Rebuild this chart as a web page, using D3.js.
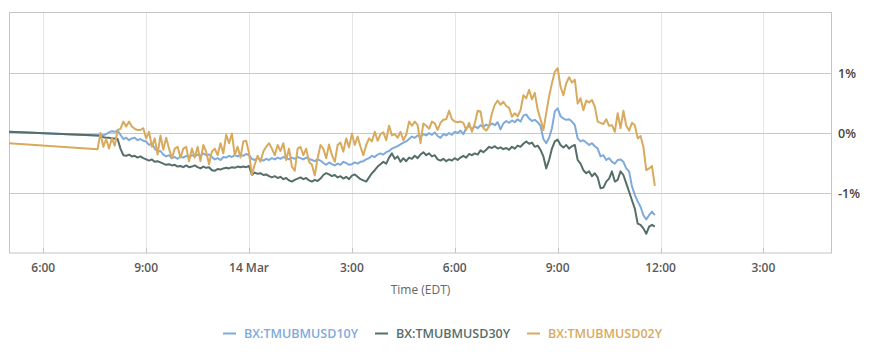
<!DOCTYPE html>
<html><head><meta charset="utf-8">
<script src="https://cdn.jsdelivr.net/npm/d3@7"></script>
<style>
html,body{margin:0;padding:0;background:#fff;}
svg{display:block;font-family:"Open Sans",sans-serif;}
</style></head>
<body><svg id="c" width="869" height="357"></svg>
<script>
// ---- data ----
const seriesNames = ["BX:TMUBMUSD10Y", "BX:TMUBMUSD30Y", "BX:TMUBMUSD02Y"];
const seriesColors = ["#7eaadc", "#566e6a", "#d8aa5e"];
// two early points, then 5-minute samples from 19:40 (13 Mar) to 11:50 (14 Mar), EDT
const leadTimes = ["2023-03-13T17:00", "2023-03-13T19:35"];
const gridStart = "2023-03-13T19:40";
const gridEnd = "2023-03-14T11:50";
const stepMinutes = 5;

const lead10Y = [0.02, -0.04];
const lead30Y = [0.02, -0.04];
const lead02Y = [-0.17, -0.27];

const values10Y = [
-0.03,-0.04,-0.02,0.01,0.03,0.02,0.04,-0.03,-0.10,-0.08,
-0.12,-0.09,-0.08,-0.12,-0.10,-0.13,-0.14,-0.20,-0.17,-0.26,
-0.31,-0.30,-0.36,-0.39,-0.37,-0.42,-0.40,-0.43,-0.39,-0.41,
-0.38,-0.40,-0.37,-0.39,-0.36,-0.38,-0.34,-0.37,-0.36,
-0.40,-0.44,-0.42,-0.45,-0.40,-0.41,-0.38,-0.40,-0.37,-0.39,
-0.36,-0.38,-0.35,-0.37,-0.43,-0.45,-0.42,-0.44,-0.46,-0.43,
-0.45,-0.42,-0.44,-0.41,-0.43,-0.40,-0.42,-0.44,-0.41,-0.43,
-0.40,-0.42,-0.44,-0.41,-0.43,-0.45,-0.47,-0.44,-0.46,
-0.50,-0.53,-0.49,-0.52,-0.54,-0.51,-0.53,-0.48,-0.50,-0.53,
-0.52,-0.49,-0.51,-0.48,-0.47,-0.44,-0.42,-0.38,-0.40,-0.36,
-0.34,-0.36,-0.32,-0.30,-0.26,-0.24,-0.22,-0.19,-0.16,-0.14,
-0.10,-0.06,-0.08,-0.04,-0.06,-0.02,-0.04,0.00,-0.03,0.01,
-0.05,-0.08,-0.02,-0.04,0.00,-0.03,0.02,0.00,0.04,-0.02,
0.08,0.12,0.06,0.11,0.08,0.13,0.10,0.14,0.12,0.16,
0.13,0.18,0.06,0.16,0.20,0.17,0.21,0.18,0.23,0.19,
0.29,0.31,0.24,0.20,0.22,0.18,0.12,-0.10,-0.17,-0.08,
0.08,0.36,0.41,0.28,0.24,0.22,0.23,0.19,0.13,-0.09,
-0.14,-0.12,-0.16,-0.20,-0.17,-0.22,-0.26,-0.39,-0.37,-0.45,
-0.42,-0.48,-0.51,-0.45,-0.44,-0.48,-0.59,-0.64,-0.89,-1.03,
-1.14,-1.23,-1.37,-1.44,-1.37,-1.31,-1.37
];
const values30Y = [
-0.05,-0.07,-0.08,-0.08,-0.09,-0.09,-0.10,-0.26,-0.37,-0.38,
-0.36,-0.39,-0.38,-0.41,-0.39,-0.42,-0.44,-0.46,-0.44,-0.48,
-0.47,-0.49,-0.51,-0.53,-0.52,-0.54,-0.53,-0.56,-0.55,-0.57,
-0.54,-0.57,-0.56,-0.54,-0.57,-0.59,-0.56,-0.58,-0.57,
-0.62,-0.63,-0.60,-0.61,-0.59,-0.58,-0.59,-0.57,-0.58,-0.56,
-0.57,-0.56,-0.57,-0.55,-0.70,-0.66,-0.68,-0.67,-0.70,-0.69,
-0.72,-0.74,-0.72,-0.75,-0.73,-0.77,-0.75,-0.79,-0.81,-0.78,
-0.76,-0.74,-0.77,-0.75,-0.79,-0.81,-0.78,-0.80,-0.76,
-0.70,-0.67,-0.69,-0.72,-0.70,-0.74,-0.72,-0.76,-0.73,-0.77,
-0.71,-0.69,-0.73,-0.77,-0.79,-0.81,-0.74,-0.67,-0.62,-0.56,
-0.52,-0.48,-0.51,-0.41,-0.34,-0.43,-0.39,-0.48,-0.42,-0.47,
-0.41,-0.43,-0.38,-0.42,-0.36,-0.32,-0.37,-0.34,-0.39,-0.37,
-0.44,-0.46,-0.43,-0.47,-0.44,-0.46,-0.42,-0.45,-0.41,-0.38,
-0.41,-0.35,-0.37,-0.34,-0.36,-0.29,-0.32,-0.28,-0.23,-0.25,
-0.22,-0.26,-0.24,-0.27,-0.25,-0.28,-0.23,-0.26,-0.21,-0.23,
-0.18,-0.14,-0.18,-0.16,-0.23,-0.21,-0.28,-0.39,-0.59,-0.45,
-0.26,-0.14,-0.11,-0.20,-0.24,-0.20,-0.26,-0.22,-0.20,-0.45,
-0.51,-0.62,-0.67,-0.64,-0.72,-0.67,-0.74,-0.92,-0.91,-0.81,
-0.76,-0.64,-0.81,-0.78,-0.64,-0.70,-0.84,-0.98,-1.12,-1.26,
-1.51,-1.53,-1.59,-1.68,-1.56,-1.53,-1.56
];
const values02Y = [
0.00,-0.23,-0.10,-0.26,-0.09,-0.21,0.05,0.07,0.19,0.11,
0.19,0.11,0.07,0.05,0.05,0.08,-0.09,0.02,-0.23,-0.09,
-0.36,-0.04,-0.28,-0.08,-0.26,-0.42,-0.26,-0.23,-0.41,-0.26,
-0.23,-0.47,-0.26,-0.41,-0.23,-0.47,-0.20,-0.31,-0.52,
-0.31,-0.26,-0.37,-0.17,-0.34,-0.03,-0.17,-0.01,-0.37,-0.23,
-0.41,-0.14,-0.13,-0.34,-0.70,-0.52,-0.38,-0.48,-0.31,-0.23,
-0.17,-0.26,-0.37,-0.20,-0.30,-0.17,-0.45,-0.26,-0.56,-0.63,
-0.26,-0.23,-0.37,-0.26,-0.48,-0.53,-0.71,-0.42,-0.20,
-0.26,-0.42,-0.19,-0.37,-0.48,-0.20,-0.16,-0.31,-0.09,-0.24,
-0.01,-0.20,-0.06,-0.23,-0.37,-0.20,-0.09,-0.14,0.02,-0.13,
-0.02,0.01,-0.12,0.12,-0.04,-0.02,-0.08,0.02,-0.12,-0.03,
0.19,0.12,0.19,0.13,-0.17,0.16,0.12,0.07,0.19,0.16,
0.05,0.17,0.22,0.23,0.37,0.23,0.19,0.18,0.19,0.17,
0.05,0.17,0.02,0.16,0.37,0.36,0.08,0.04,0.11,0.33,
0.47,0.54,0.47,0.52,0.45,0.42,0.27,0.33,0.28,0.38,
0.63,0.58,0.72,0.56,0.67,0.39,0.23,0.05,0.33,0.61,
0.83,1.02,1.08,0.77,0.63,0.83,0.93,0.84,0.89,0.49,
0.58,0.38,0.54,0.51,0.55,0.44,0.19,0.17,0.15,0.23,
0.12,0.13,0.02,0.33,0.08,0.37,0.12,0.04,0.17,0.13,
-0.09,-0.05,-0.23,-0.62,-0.59,-0.55,-0.88
];
const xDomain = ["2023-03-13T17:00", "2023-03-14T17:00"];
const yDomain = [-2, 2];
const yTicks = [-1, 0, 1];

// ---- build ----
const parse = s => new Date(s + ":00Z");
const gridTimes = d3.utcMinute.every(stepMinutes).range(parse(gridStart), new Date(+parse(gridEnd) + 1));
const allTimes = leadTimes.map(parse).concat(gridTimes);
const seriesValues = [lead10Y.concat(values10Y), lead30Y.concat(values30Y), lead02Y.concat(values02Y)];

const svg = d3.select("#c");
const L = 9, R = 832, T = 13, B = 253;
const x = d3.scaleUtc().domain(xDomain.map(parse)).range([L, R]);
const y = d3.scaleLinear().domain(yDomain).range([B, T]);

const xTicks = d3.utcHour.every(3).range(x.domain()[0], x.domain()[1]).filter(d => x(d) > L + 1);
const fmt = d => d.getUTCHours() === 0 ? d3.utcFormat("%-d %b")(d) : ((d.getUTCHours() % 12) || 12) + ":00";

// vertical grid
svg.append("g").selectAll("line").data(xTicks).join("line")
  .attr("x1", d => Math.round(x(d)) + 0.5).attr("x2", d => Math.round(x(d)) + 0.5)
  .attr("y1", T - 1).attr("y2", B)
  .attr("stroke", "#e6e6e6").attr("stroke-width", 1);
// horizontal grid
svg.append("g").selectAll("line").data(yTicks).join("line")
  .attr("x1", L).attr("x2", R)
  .attr("y1", d => Math.round(y(d)) + 0.5).attr("y2", d => Math.round(y(d)) + 0.5)
  .attr("stroke", "#c8c8c8").attr("stroke-width", 1);
// frame
svg.append("rect").attr("x", L + 0.5).attr("y", T - 0.5).attr("width", R - L - 1).attr("height", B - T + 0.5)
  .attr("fill", "none").attr("stroke", "#c4c4c4").attr("stroke-width", 1);
// x tick marks
svg.append("g").selectAll("line").data(xTicks).join("line")
  .attr("x1", d => Math.round(x(d)) + 0.5).attr("x2", d => Math.round(x(d)) + 0.5)
  .attr("y1", B - 5).attr("y2", B)
  .attr("stroke", "#c4c4c4");
// x labels
svg.append("g").selectAll("text").data(xTicks).join("text")
  .attr("x", d => x(d)).attr("y", 272)
  .attr("text-anchor", "middle").attr("font-size", 12).attr("font-weight", 600).attr("fill", "#595959")
  .text(fmt);
svg.append("text").attr("x", (L + R) / 2).attr("y", 294).attr("text-anchor", "middle")
  .attr("font-size", 12).attr("fill", "#666").text("Time (EDT)");
// y labels
svg.append("g").selectAll("text").data(yTicks).join("text")
  .attr("x", 838).attr("y", d => y(d) + 4.5)
  .attr("font-size", 12.5).attr("font-weight", 600).attr("fill", "#444")
  .text(d => String(d) + "%");

// lines
const line = d3.line().x(d => x(d[0])).y(d => y(d[1]));
seriesValues.forEach((vals, k) => {
  svg.append("path").datum(allTimes.map((t, i) => [t, vals[i]]))
    .attr("d", line).attr("fill", "none").attr("stroke", seriesColors[k])
    .attr("stroke-width", 2).attr("stroke-linejoin", "round");
});

// legend
const legendX = [223, 375, 527];
const lg = svg.append("g");
seriesNames.forEach((n, k) => {
  lg.append("line").attr("x1", legendX[k]).attr("x2", legendX[k] + 13).attr("y1", 333.5).attr("y2", 333.5)
    .attr("stroke", seriesColors[k]).attr("stroke-width", 2);
  lg.append("text").attr("x", legendX[k] + 21).attr("y", 338).attr("font-size", 12.5).attr("font-weight", 600)
    .attr("fill", seriesColors[k]).text(n);
});
</script></body></html>
